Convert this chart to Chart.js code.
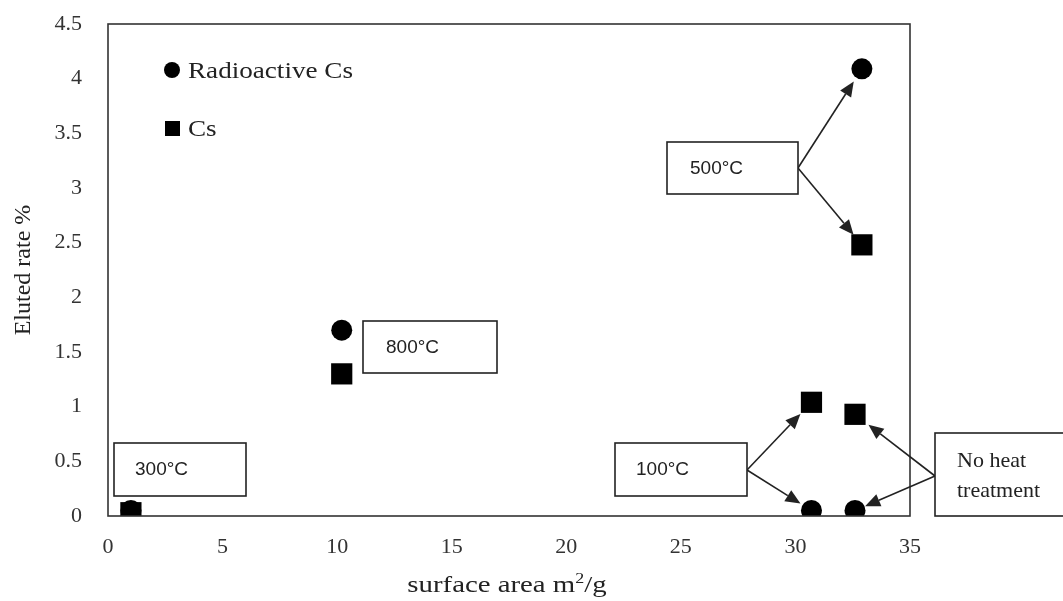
<!DOCTYPE html>
<html>
<head>
<meta charset="utf-8">
<script src="https://cdn.jsdelivr.net/npm/chart.js@4.4.0/dist/chart.umd.min.js"></script>
<style>
html, body { margin: 0; padding: 0; background: #fff; }
#wrap { width: 1063px; height: 601px; }
</style>
</head>
<body>
<div id="wrap"><canvas id="myChart"></canvas></div>
<script>
// heat treatment groups, surface area (m2/g) and eluted rate (%)
const treatments = ["300°C", "800°C", "100°C", "No heat treatment", "500°C"];
const surfaceArea = [1.0, 10.2, 30.7, 32.6, 32.9];
const radioactiveCs = [0.05, 1.70, 0.05, 0.05, 4.09];
const stableCs = [0.03, 1.30, 1.04, 0.93, 2.48];

const xTickLabels = ["0", "5", "10", "15", "20", "25", "30", "35"];
const yTickLabels = ["0", "0.5", "1", "1.5", "2", "2.5", "3", "3.5", "4", "4.5"];

const SERIF = "'Liberation Serif', 'Times New Roman', serif";
const SANS = "'Liberation Sans', Arial, sans-serif";
const INK = "#222";

function points(ys) {
    return surfaceArea.map((x, i) => ({ x: x, y: ys[i] }));
}

function arrow(ctx, x1, y1, x2, y2) {
    const ang = Math.atan2(y2 - y1, x2 - x1);
    const len = 15, half = 6.5;
    const bx = x2 - len * Math.cos(ang), by = y2 - len * Math.sin(ang);
    ctx.beginPath();
    ctx.moveTo(x1, y1);
    ctx.lineTo(bx, by);
    ctx.stroke();
    ctx.beginPath();
    ctx.moveTo(x2, y2);
    ctx.lineTo(bx + half * Math.sin(ang), by - half * Math.cos(ang));
    ctx.lineTo(bx - half * Math.sin(ang), by + half * Math.cos(ang));
    ctx.closePath();
    ctx.fill();
}

// arrow from (x1,y1) that stops short of a data point
function arrowTo(ctx, x1, y1, px, py, gap) {
    const d = Math.hypot(px - x1, py - y1);
    arrow(ctx, x1, y1, px - (px - x1) * gap / d, py - (py - y1) * gap / d);
}

function box(ctx, x, y, w, h) {
    ctx.fillStyle = "#fff";
    ctx.fillRect(x, y, w, h);
    ctx.strokeRect(x, y, w, h);
    ctx.fillStyle = INK;
}

const decorPlugin = {
    id: "decor",
    afterDraw(chart) {
        const ctx = chart.ctx;
        const a = chart.chartArea;
        const xs = chart.scales.x, ys = chart.scales.y;
        const px = i => xs.getPixelForValue(surfaceArea[i]);
        const pyR = i => ys.getPixelForValue(radioactiveCs[i]);
        const pyC = i => ys.getPixelForValue(stableCs[i]);

        ctx.save();
        // plot frame
        ctx.strokeStyle = "#333";
        ctx.lineWidth = 1.6;
        ctx.strokeRect(a.left, a.top, a.right - a.left, a.bottom - a.top);

        // legend
        ctx.fillStyle = "#000";
        ctx.beginPath();
        ctx.arc(172, 70, 8, 0, Math.PI * 2);
        ctx.fill();
        ctx.fillRect(165, 121, 15, 15);
        ctx.font = "24px " + SERIF;
        ctx.fillStyle = INK;
        ctx.textBaseline = "alphabetic";
        ctx.save();
        ctx.translate(188, 78);
        ctx.scale(1.13, 1);
        ctx.fillText("Radioactive Cs", 0, 0);
        ctx.restore();
        ctx.save();
        ctx.translate(188, 136);
        ctx.scale(1.13, 1);
        ctx.fillText("Cs", 0, 0);
        ctx.restore();

        // annotation boxes and arrows
        ctx.strokeStyle = "#222";
        ctx.lineWidth = 1.6;
        ctx.fillStyle = "#222";
        arrowTo(ctx, 798, 168, px(4), pyR(4), 15);
        arrowTo(ctx, 798, 168, px(4), pyC(4), 13);
        arrowTo(ctx, 747, 470, px(2), pyC(2), 16);
        arrowTo(ctx, 747, 470, px(2), pyR(2), 13);
        arrowTo(ctx, 935, 476, px(3), pyC(3), 17);
        arrowTo(ctx, 935, 476, px(3), pyR(3), 11);

        ctx.lineWidth = 1.6;
        box(ctx, 114, 443, 132, 53);
        box(ctx, 363, 321, 134, 52);
        box(ctx, 667, 142, 131, 52);
        box(ctx, 615, 443, 132, 53);
        box(ctx, 935, 433, 130, 83);

        ctx.font = "19px " + SANS;
        ctx.textBaseline = "middle";
        ctx.fillText(treatments[0], 135, 470);
        ctx.fillText(treatments[1], 386, 348);
        ctx.fillText(treatments[4], 690, 169);
        ctx.fillText(treatments[2], 636, 470);

        ctx.font = "22px " + SERIF;
        ctx.textBaseline = "alphabetic";
        ctx.fillText("No heat", 957, 467);
        ctx.fillText("treatment", 957, 497);

        // axis titles
        ctx.font = "24px " + SERIF;
        ctx.save();
        ctx.translate(30, 270);
        ctx.rotate(-Math.PI / 2);
        ctx.textAlign = "center";
        ctx.fillText("Eluted rate %", 0, 0);
        ctx.restore();

        const t1 = "surface area m", t2 = "2", t3 = "/g";
        ctx.save();
        ctx.translate(507, 592);
        ctx.scale(1.2, 1);
        ctx.font = "24px " + SERIF;
        const w1 = ctx.measureText(t1).width, w3 = ctx.measureText(t3).width;
        ctx.font = "15px " + SERIF;
        const w2 = ctx.measureText(t2).width;
        let x0 = -(w1 + w2 + w3) / 2;
        ctx.font = "24px " + SERIF;
        ctx.fillText(t1, x0, 0);
        ctx.font = "15px " + SERIF;
        ctx.fillText(t2, x0 + w1, -9);
        ctx.font = "24px " + SERIF;
        ctx.fillText(t3, x0 + w1 + w2, 0);
        ctx.restore();

        ctx.restore();
    }
};

const ctx = document.getElementById("myChart");
new Chart(ctx, {
    type: "scatter",
    data: {
        datasets: [
            {
                label: "Cs",
                data: points(stableCs),
                pointStyle: "rect",
                pointRadius: 15,
                backgroundColor: "#000",
                borderColor: "#000",
                borderWidth: 0,
                order: 0
            },
            {
                label: "Radioactive Cs",
                data: points(radioactiveCs),
                pointStyle: "circle",
                pointRadius: 10.5,
                backgroundColor: "#000",
                borderColor: "#000",
                borderWidth: 0,
                order: 1
            }
        ]
    },
    options: {
        responsive: true,
        maintainAspectRatio: false,
        animation: false,
        events: [],
        layout: { padding: { top: 24, right: 153, left: 0, bottom: 0 } },
        plugins: {
            legend: { display: false },
            tooltip: { enabled: false }
        },
        scales: {
            x: {
                type: "linear",
                min: 0,
                max: 35,
                afterFit: s => { s.height = 85; s.paddingLeft = 0; s.paddingRight = 0; },
                grid: { display: false, drawTicks: false },
                border: { display: false },
                ticks: {
                    stepSize: 5,
                    padding: 18,
                    color: "#333",
                    font: { family: SERIF, size: 22 },
                    callback: (v, i) => xTickLabels[i]
                }
            },
            y: {
                type: "linear",
                min: 0,
                max: 4.5,
                afterFit: s => { s.width = 108; s.paddingTop = 0; s.paddingBottom = 0; },
                grid: { display: false, drawTicks: false },
                border: { display: false },
                ticks: {
                    stepSize: 0.5,
                    padding: 26,
                    color: "#333",
                    font: { family: SERIF, size: 22 },
                    callback: (v, i) => yTickLabels[i]
                }
            }
        }
    },
    plugins: [decorPlugin]
});
</script>
</body>
</html>
